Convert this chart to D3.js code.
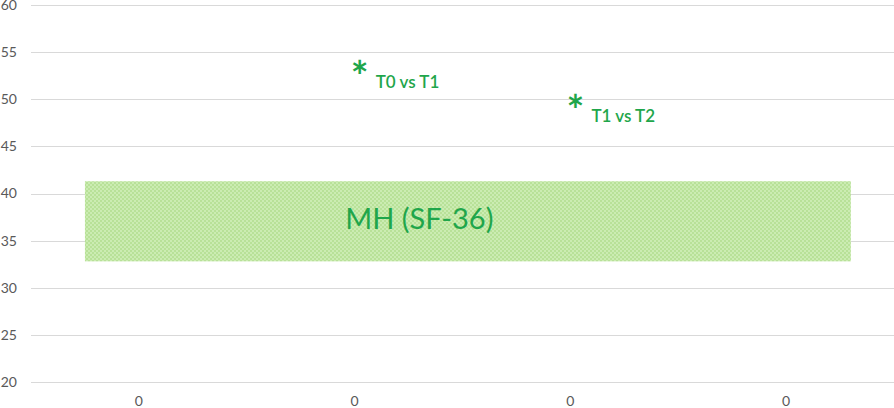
<!DOCTYPE html>
<html>
<head>
<meta charset="utf-8">
<script src="https://cdn.jsdelivr.net/npm/d3@7"></script>
<style>
  body { margin: 0; background: #fff; }
  svg { display: block; }
</style>
</head>
<body>
<div id="chart"></div>
<script>
const categories = ["0", "0", "0", "0"];
const yTicks = [20, 25, 30, 35, 40, 45, 50, 55, 60];
// band spans category index -0.25 .. 3.3, values 32.8 .. 41.3
const bandRange = { from: -0.25, to: 3.3, low: 32.8, high: 41.3, label: "MH (SF-36)" };
const markers = [
  { cat: 1, value: 53.1, label: "T0 vs T1" },
  { cat: 2, value: 49.5, label: "T1 vs T2" },
];

const size = { width: 894, height: 408 };
const margin = { top: 5, right: 0, bottom: 26, left: 31 };
const font = "Lato, 'Open Sans', sans-serif";
const green = "#1fa64b";

const svg = d3.select("#chart").append("svg")
  .attr("width", size.width).attr("height", size.height);

const y = d3.scaleLinear().domain([20, 60])
  .range([size.height - margin.bottom, margin.top]);

const x = d3.scaleBand().domain(d3.range(categories.length))
  .range([margin.left, size.width - margin.right]);

// continuous position by category index (center of band)
const xi = d3.scaleLinear().domain([0, 1])
  .range([x(0) + x.bandwidth() / 2, x(1) + x.bandwidth() / 2]);

// checker pattern for the band
const defs = svg.append("defs");
const pat = defs.append("pattern").attr("id", "chk")
  .attr("patternUnits", "userSpaceOnUse").attr("width", 4).attr("height", 4);
pat.append("rect").attr("width", 4).attr("height", 4).attr("fill", "#cbecb2");
pat.append("rect").attr("width", 2).attr("height", 2).attr("fill", "#b8e198");
pat.append("rect").attr("x", 2).attr("y", 2).attr("width", 2).attr("height", 2).attr("fill", "#b8e198");

// grid
svg.append("g")
  .selectAll("line")
  .data(yTicks)
  .join("line")
  .attr("x1", margin.left)
  .attr("x2", size.width - margin.right)
  .attr("y1", (d) => Math.round(y(d)) + 0.5)
  .attr("y2", (d) => Math.round(y(d)) + 0.5)
  .attr("stroke", "#d9d9d9")
  .attr("stroke-width", 1);

// y labels
svg.append("g")
  .selectAll("text")
  .data(yTicks)
  .join("text")
  .attr("x", 17)
  .attr("y", (d) => y(d))
  .attr("dy", "0.35em")
  .attr("text-anchor", "end")
  .style("font-family", font)
  .style("font-size", "14px")
  .attr("fill", "#595959")
  .text((d) => d);

// x labels
svg.append("g")
  .selectAll("text")
  .data(categories)
  .join("text")
  .attr("x", (d, i) => x(i) + x.bandwidth() / 2)
  .attr("y", size.height - 2)
  .attr("text-anchor", "middle")
  .style("font-family", font)
  .style("font-size", "14px")
  .attr("fill", "#595959")
  .text((d) => d);

// shaded band
svg.append("rect")
  .attr("x", xi(bandRange.from))
  .attr("y", y(bandRange.high))
  .attr("width", xi(bandRange.to) - xi(bandRange.from))
  .attr("height", y(bandRange.low) - y(bandRange.high))
  .attr("fill", "url(#chk)");

svg.append("text")
  .attr("x", xi(1.3))
  .attr("y", y((bandRange.low + bandRange.high) / 2) - 2)
  .attr("dy", "0.35em")
  .attr("text-anchor", "middle")
  .style("font-family", font)
  .style("font-size", "29px")
  .attr("fill", green)
  .text(bandRange.label);

// significance markers
const mk = svg.append("g").selectAll("g").data(markers).join("g")
  .attr("transform", (d) => `translate(${xi(d.cat) + 5}, ${y(d.value)})`);

mk.append("text")
  .attr("y", 22)
  .attr("text-anchor", "middle")
  .style("font-family", font)
  .style("font-size", "42px")
  .style("font-weight", "bold")
  .attr("fill", green)
  .text("*");

mk.append("text")
  .attr("x", 16)
  .attr("y", 18)
  .style("font-family", font)
  .style("font-size", "17px")
  .style("font-weight", "600")
  .attr("fill", green)
  .text((d) => d.label);
</script>
</body>
</html>
